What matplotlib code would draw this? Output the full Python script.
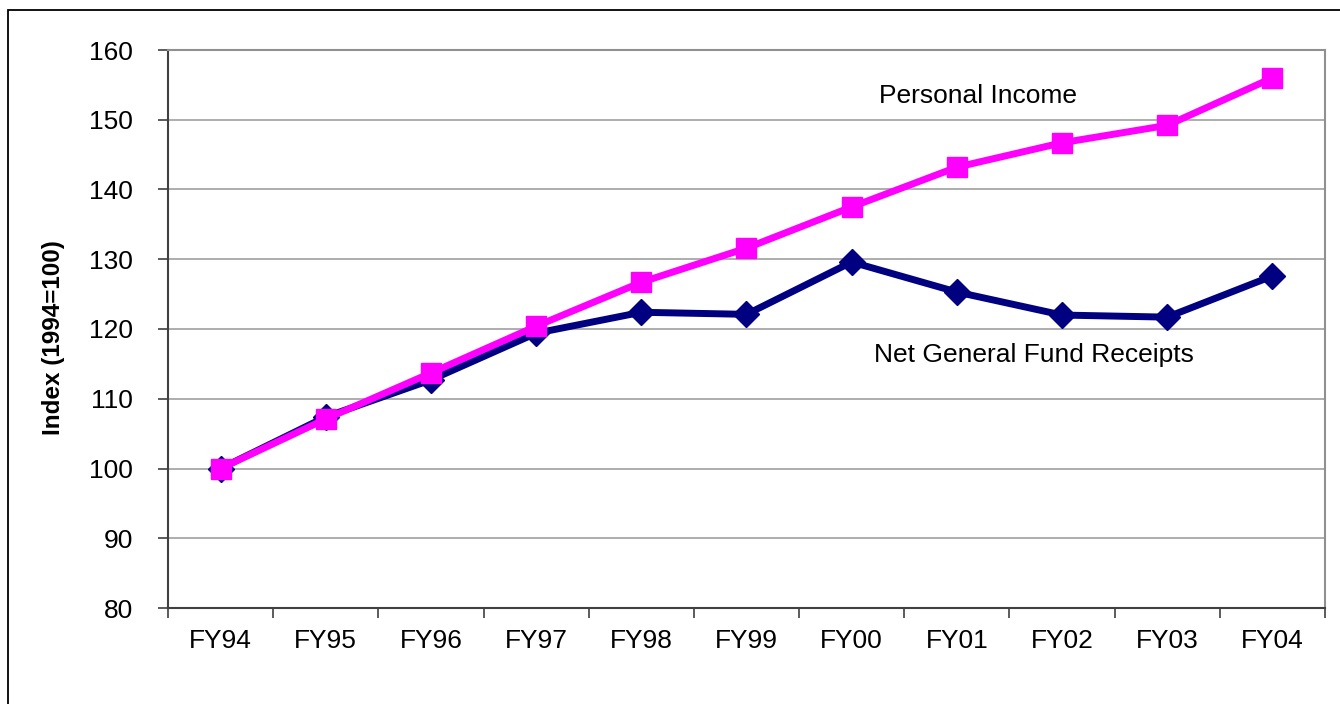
import matplotlib
matplotlib.use("Agg")
import matplotlib.pyplot as plt
from matplotlib.patches import Rectangle

categories = ["FY94", "FY95", "FY96", "FY97", "FY98", "FY99", "FY00", "FY01", "FY02", "FY03", "FY04"]
personal_income = [100.0, 107.1, 113.7, 120.4, 126.7, 131.6, 137.5, 143.2, 146.7, 149.2, 156.0]
net_gf_receipts = [100.0, 107.4, 112.7, 119.4, 122.4, 122.1, 129.6, 125.3, 122.0, 121.7, 127.6]
y_ticks = [80, 90, 100, 110, 120, 130, 140, 150, 160]

plt.rcParams['font.family'] = ['Liberation Sans', 'DejaVu Sans']

fig = plt.figure(figsize=(13.4, 7.04), dpi=100)
# outer chart border
fig.patches.append(Rectangle((8/1340, -0.05), 1.2, 1 - 10/704 + 0.05, transform=fig.transFigure,
                             fill=False, edgecolor='black', linewidth=1.3))

ax = fig.add_axes([168/1340, 1 - 608/704, (1325-168)/1340, (608-50)/704])
x = list(range(len(categories)))

ax.plot(x, net_gf_receipts, color='#000080', linewidth=5.0, marker='D', markersize=13,
        markerfacecolor='#000080', markeredgecolor='#000080', zorder=3)
ax.plot(x, personal_income, color='#FF00FF', linewidth=5.0, marker='s', markersize=14,
        markerfacecolor='#FF00FF', markeredgecolor='#FF00FF', zorder=4)

ax.set_xlim(-0.5, len(categories) - 0.5)
ax.set_ylim(80, 160)
ax.set_yticks(y_ticks)
ax.set_yticklabels([str(v) for v in y_ticks], fontsize=19)
ax.yaxis.grid(True, color='#a0a0a0', linewidth=1.2)
ax.set_axisbelow(True)

ax.set_xticks(x)
ax.set_xticklabels(categories, fontsize=19)
ax.tick_params(axis='x', which='major', length=0, pad=15)
ax.set_xticks([i - 0.5 for i in range(len(categories) + 1)], minor=True)
ax.tick_params(axis='x', which='minor', length=7, width=1.2, color='#404040')
ax.tick_params(axis='y', length=7, width=1.2, color='#404040', pad=18)

for side in ['left', 'bottom']:
    ax.spines[side].set_color('#404040')
    ax.spines[side].set_linewidth(1.5)
for side in ['top', 'right']:
    ax.spines[side].set_color('#909090')
    ax.spines[side].set_linewidth(1.5)

ax.set_ylabel("Index (1994=100)", fontsize=17.5, fontweight='bold')
ax.yaxis.set_label_coords((65 - 168) / 1157, 0.485)

ax.text(7.2, 153.4, "Personal Income", fontsize=19, ha='center', va='center')
ax.text(7.73, 116.3, "Net General Fund Receipts", fontsize=19, ha='center', va='center')

fig.savefig("out.png", dpi=100)
